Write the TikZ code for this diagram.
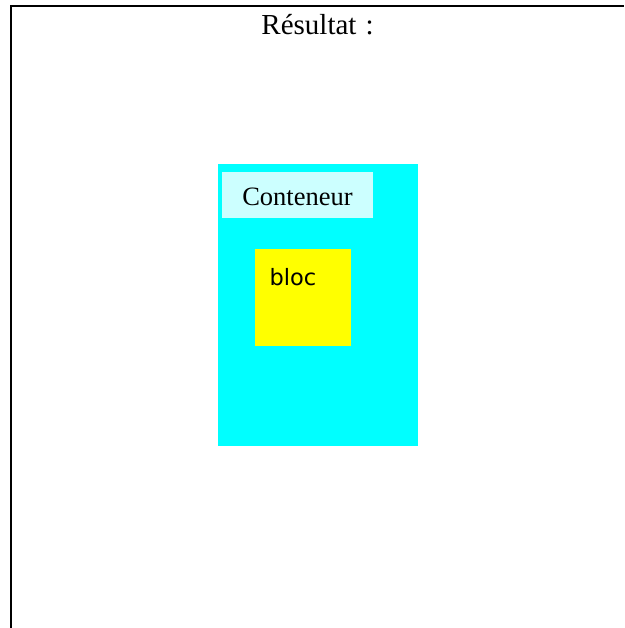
\documentclass[tikz,border=0pt]{standalone}
\usepackage{fontspec}
\setmainfont{Liberation Serif}
\newfontfamily\blocfont{DejaVu Sans}
\definecolor{cyanfill}{RGB}{0,255,255}
\definecolor{lightcyanfill}{RGB}{204,255,255}
\definecolor{yellowfill}{RGB}{255,255,0}
\begin{document}
\begin{tikzpicture}[x=1pt,y=-1pt,
  txt/.style={inner sep=0pt,outer sep=0pt,anchor=base}]
\useasboundingbox (0,0) rectangle (624,628);
% frame
\draw[line width=2pt] (11,628) -- (11,6) -- (624,6);
% title
\node[txt,font=\fontsize{29}{33}\selectfont] (title) at (317.5,35) {Résultat\hspace{9pt}:};
% container
\fill[cyanfill] (218,164) rectangle (418,446);
\coordinate (cont) at (318,305);
\fill[lightcyanfill] (222,172) rectangle (373,218);
\node[txt,font=\fontsize{26.5}{30}\selectfont] (contlabel) at (297.5,206) {Conteneur};
% bloc
\fill[yellowfill] (255,249) rectangle (351,346);
\node[txt,anchor=base west,font=\blocfont\fontsize{22.5}{26}\selectfont] (bloc) at (269.5,285) {bloc};
\end{tikzpicture}
\end{document}
